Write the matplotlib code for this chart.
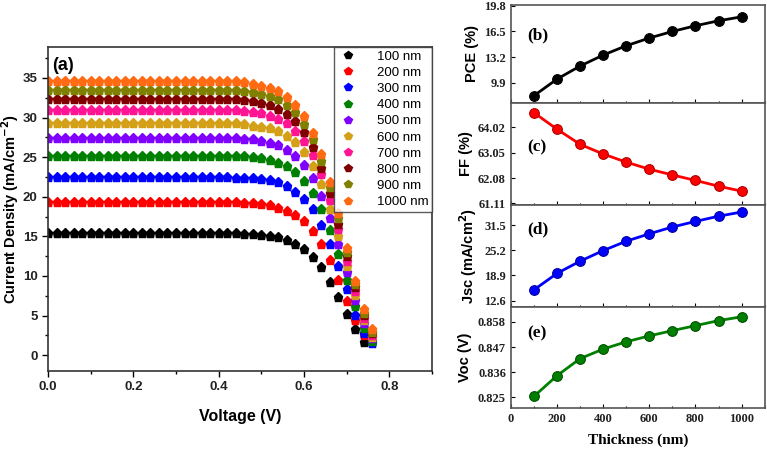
import matplotlib
matplotlib.use("Agg")
import matplotlib.pyplot as plt
from matplotlib.ticker import MultipleLocator

# ---- data: J-V curves (panel a) ----
voltage = [0.00, 0.02, 0.04, 0.06, 0.08, 0.10, 0.12, 0.14, 0.16, 0.18,
           0.20, 0.22, 0.24, 0.26, 0.28, 0.30, 0.32, 0.34, 0.36, 0.38,
           0.40, 0.42, 0.44, 0.46, 0.48, 0.50, 0.52, 0.54, 0.56, 0.58,
           0.60, 0.62, 0.64, 0.66, 0.68, 0.70, 0.72, 0.74, 0.76]

j_100 = [15.38, 15.38, 15.38, 15.38, 15.38, 15.38, 15.38, 15.38, 15.38, 15.38,
         15.38, 15.38, 15.38, 15.38, 15.38, 15.38, 15.38, 15.38, 15.38, 15.38,
         15.38, 15.38, 15.38, 15.34, 15.25, 15.17, 15.08, 14.87, 14.58, 14.08,
         13.45, 12.44, 11.09, 9.29, 7.31, 5.21, 3.28, 1.72]
j_200 = [19.29, 19.29, 19.29, 19.29, 19.29, 19.29, 19.29, 19.29, 19.29, 19.29,
         19.29, 19.29, 19.29, 19.29, 19.29, 19.29, 19.29, 19.29, 19.29, 19.29,
         19.29, 19.29, 19.28, 19.26, 19.20, 19.08, 18.91, 18.61, 18.24, 17.69,
         16.89, 15.71, 14.03, 11.97, 9.54, 6.85, 4.45, 2.52]
j_300 = [22.44, 22.44, 22.44, 22.44, 22.44, 22.44, 22.44, 22.44, 22.44, 22.44,
         22.44, 22.44, 22.44, 22.44, 22.44, 22.44, 22.44, 22.44, 22.44, 22.44,
         22.44, 22.43, 22.42, 22.40, 22.35, 22.23, 22.06, 21.81, 21.30, 20.63,
         19.71, 18.40, 16.43, 14.08, 11.30, 8.32, 5.13, 2.77, 1.51]
j_400 = [25.17, 25.17, 25.17, 25.17, 25.17, 25.17, 25.17, 25.17, 25.17, 25.17,
         25.17, 25.17, 25.17, 25.17, 25.17, 25.17, 25.17, 25.17, 25.17, 25.17,
         25.17, 25.16, 25.14, 25.10, 25.00, 24.83, 24.58, 24.24, 23.82, 23.07,
         22.02, 20.50, 18.45, 15.84, 12.77, 9.50, 6.26, 3.40, 1.85]
j_500 = [27.44, 27.44, 27.44, 27.44, 27.44, 27.44, 27.44, 27.44, 27.44, 27.44,
         27.44, 27.44, 27.44, 27.44, 27.44, 27.44, 27.44, 27.44, 27.44, 27.44,
         27.44, 27.43, 27.40, 27.35, 27.23, 27.02, 26.76, 26.47, 25.92, 25.17,
         24.03, 22.31, 20.08, 17.35, 14.03, 10.46, 6.97, 4.03, 2.14]
j_600 = [29.29, 29.29, 29.29, 29.29, 29.29, 29.29, 29.29, 29.29, 29.29, 29.29,
         29.29, 29.29, 29.29, 29.29, 29.29, 29.29, 29.29, 29.29, 29.29, 29.29,
         29.29, 29.28, 29.25, 29.20, 28.99, 28.82, 28.66, 28.28, 27.69, 26.85,
         25.63, 23.87, 21.55, 18.49, 15.00, 11.26, 7.61, 4.45, 2.35]
j_700 = [30.97, 30.97, 30.97, 30.97, 30.97, 30.97, 30.97, 30.97, 30.97, 30.97,
         30.97, 30.97, 30.97, 30.97, 30.97, 30.97, 30.97, 30.97, 30.97, 30.97,
         30.97, 30.96, 30.93, 30.88, 30.71, 30.55, 30.25, 29.87, 29.29, 28.32,
         27.02, 25.21, 22.82, 19.58, 15.88, 11.89, 8.11, 4.75, 2.56]
j_800 = [32.35, 32.35, 32.35, 32.35, 32.35, 32.35, 32.35, 32.35, 32.35, 32.35,
         32.35, 32.35, 32.35, 32.35, 32.35, 32.35, 32.35, 32.35, 32.35, 32.35,
         32.35, 32.33, 32.30, 32.23, 32.06, 31.89, 31.60, 31.13, 30.50, 29.58,
         28.19, 26.30, 23.66, 20.42, 16.60, 12.52, 8.57, 5.08, 2.77]
j_900 = [33.49, 33.49, 33.49, 33.49, 33.49, 33.49, 33.49, 33.49, 33.49, 33.49,
         33.49, 33.49, 33.49, 33.49, 33.49, 33.49, 33.49, 33.49, 33.49, 33.49,
         33.49, 33.48, 33.45, 33.40, 33.28, 33.03, 32.73, 32.31, 31.64, 30.67,
         29.24, 27.23, 24.54, 21.18, 17.27, 13.07, 8.95, 5.38, 2.90]
j_1000 = [34.58, 34.58, 34.58, 34.58, 34.58, 34.58, 34.58, 34.58, 34.58, 34.58,
          34.58, 34.58, 34.58, 34.58, 34.58, 34.58, 34.58, 34.58, 34.58, 34.58,
          34.58, 34.57, 34.55, 34.50, 34.29, 34.03, 33.74, 33.32, 32.61, 31.60,
          30.13, 28.07, 25.34, 21.89, 17.90, 13.57, 9.41, 5.84, 3.28]

jv_curves = [j_100, j_200, j_300, j_400, j_500, j_600, j_700, j_800, j_900, j_1000]
jv_labels = ['100 nm', '200 nm', '300 nm', '400 nm', '500 nm',
             '600 nm', '700 nm', '800 nm', '900 nm', '1000 nm']
jv_colors = ['#000000', '#ff0000', '#0000ff', '#008000', '#8000ff',
             '#d4a017', '#ff1493', '#800000', '#808000', '#ff6a13']

# ---- data: parameters vs thickness (panels b-e) ----
thickness = [100, 200, 300, 400, 500, 600, 700, 800, 900, 1000]
pce = [8.23, 10.37, 12.05, 13.46, 14.66, 15.65, 16.50, 17.23, 17.87, 18.38]
ff = [64.58, 63.95, 63.37, 63.00, 62.69, 62.42, 62.20, 61.99, 61.77, 61.58]
jsc = [15.27, 19.40, 22.45, 25.10, 27.45, 29.30, 31.00, 32.40, 33.70, 34.75]
voc = [0.8253, 0.8344, 0.8419, 0.8461, 0.8493, 0.8519, 0.8542, 0.8564, 0.8586, 0.8603]

pce_ticks = ['9.9', '13.2', '16.5', '19.8']
ff_ticks = ['61.11', '62.08', '63.05', '64.02']
jsc_ticks = ['12.6', '18.9', '25.2', '31.5']
voc_ticks = ['0.825', '0.836', '0.847', '0.858']

sans = ['Liberation Sans', 'DejaVu Sans']
serif = ['Liberation Serif', 'DejaVu Serif']

fig = plt.figure(figsize=(7.67, 4.49), dpi=100)

# ---- panel (a) ----
ax = fig.add_axes([0.0626, 0.1737, 0.5006, 0.7216])
for j, lab, col in zip(jv_curves, jv_labels, jv_colors):
    ax.plot(voltage[:len(j)], j, linestyle='none', marker='p', markersize=6.5,
            color=col, markeredgecolor=col, label=lab)
ax.set_xlim(0, 0.9)
ax.set_ylim(-2, 38.9)
ax.xaxis.set_minor_locator(MultipleLocator(0.1))
ax.yaxis.set_minor_locator(MultipleLocator(2.5))
ax.set_xticks([0.0, 0.2, 0.4, 0.6, 0.8])
ax.set_xticklabels(['0.0', '0.2', '0.4', '0.6', '0.8'])
ax.set_yticks([0, 5, 10, 15, 20, 25, 30, 35])
ax.tick_params(which='major', direction='out', length=4, width=1, labelsize=9.5)
ax.tick_params(which='minor', direction='out', length=2.5, width=1)
for t in ax.get_xticklabels() + ax.get_yticklabels():
    t.set_fontweight('bold')
    t.set_family(sans)
    t.set_color('#222222')
for s in ax.spines.values():
    s.set_color('#333333')
    s.set_linewidth(1.2)
ax.set_xlabel('Voltage (V)', fontsize=11.5, fontweight='bold', family=sans, labelpad=11)
ax.set_ylabel('Current Density (mA/cm$^{\\mathbf{-2}}$)', fontsize=10.5,
              fontweight='bold', family=sans)
ax.yaxis.set_label_coords(-0.07, 0.5)
ax.text(0.01, 0.97, '(a)', transform=ax.transAxes, fontsize=13, fontweight='bold',
        family=sans, va='top', ha='left')
leg = ax.legend(loc='upper right', frameon=True, fancybox=False,
                handletextpad=1.4, borderpad=0.25, labelspacing=0.3,
                handlelength=1.6, borderaxespad=0.0, markerscale=0.85,
                prop={'family': sans, 'size': 9.5})
leg.get_frame().set_edgecolor('#333333')
leg.get_frame().set_linewidth(1.0)

# ---- panels (b)-(e) ----
right_left = 0.666
right_width = 0.331
panels = [
    (pce, '#000000', '#000000', 'PCE (%)', pce_ticks, (7.3, 19.9), '(b)', 0.69),
    (ff, '#ff0000', '#b00000', 'FF (%)', ff_ticks, (61.05, 64.95), '(c)', 0.56),
    (jsc, '#0000ff', '#0000a0', 'Jsc (mA/cm$^{\\mathbf{2}}$)', jsc_ticks, (11.0, 36.5), '(d)', 0.76),
    (voc, '#008000', '#005000', 'Voc (V)', voc_ticks, (0.8202, 0.8646), '(e)', 0.74),
]
tops = [0.9889, 0.7706, 0.5434, 0.3163]
bottoms = [0.7706, 0.5434, 0.3163, 0.0913]

for k, (vals, col, edge, ylab, ticks, ylim, tag, tag_y) in enumerate(panels):
    axr = fig.add_axes([right_left, bottoms[k], right_width, tops[k] - bottoms[k]])
    axr.plot(thickness, vals, color=col, linewidth=2, marker='o', markersize=7,
             markerfacecolor=col, markeredgecolor=edge, markeredgewidth=0.8)
    axr.set_xlim(0, 1100)
    axr.set_ylim(*ylim)
    axr.set_yticks([float(t) for t in ticks])
    axr.set_yticklabels(ticks)
    axr.set_xticks([0, 200, 400, 600, 800, 1000])
    axr.xaxis.set_minor_locator(MultipleLocator(100))
    axr.tick_params(which='major', direction='in', length=3, width=0.8, labelsize=9)
    axr.tick_params(which='minor', direction='in', length=1.5, width=0.8)
    if k < 3:
        axr.tick_params(axis='x', labelbottom=False)
    for t in axr.get_xticklabels() + axr.get_yticklabels():
        t.set_fontweight('bold')
        t.set_family(serif)
        t.set_color('#222222')
    for s in axr.spines.values():
        s.set_color('#555555')
        s.set_linewidth(1.2)
    axr.set_ylabel(ylab, fontsize=10.5, fontweight='bold', family=sans, labelpad=4)
    axr.text(0.065, tag_y, tag, transform=axr.transAxes, fontsize=12.5,
             fontweight='bold', family=serif, va='center', ha='left')
    if k == 3:
        axr.set_xlabel('Thickness (nm)', fontsize=11, fontweight='bold',
                       family=serif, labelpad=6)

fig.savefig('out.png', dpi=100)
